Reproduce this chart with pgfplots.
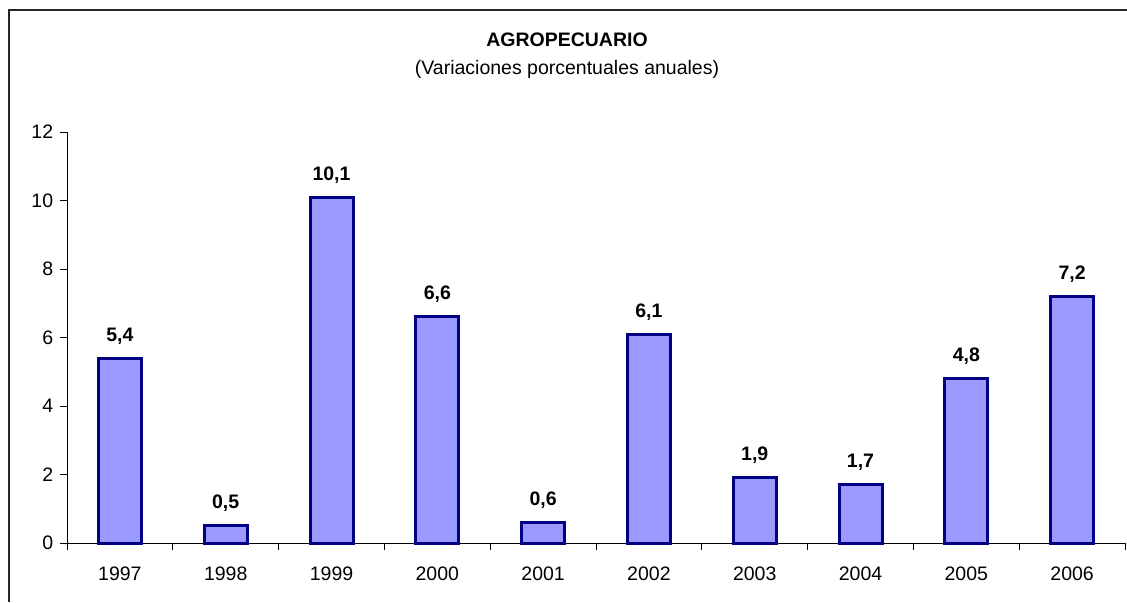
\documentclass[border=0pt]{standalone}
\usepackage{pgfplots}
\pgfplotsset{compat=1.18}
\usepackage{fontspec}
\setmainfont{Liberation Sans}
\definecolor{barfill}{RGB}{153,153,255}
\definecolor{baredge}{RGB}{0,0,128}
\begin{document}
\fontsize{9.75pt}{11.7pt}\selectfont
\begin{tikzpicture}[x=0.5pt,y=0.5pt]
\path[use as bounding box] (0,0) rectangle (1127,-602);
\draw[line width=0.8pt, black!85] (9,-602) -- (9,-10) -- (1127,-10);
\node[font=\bfseries] at (567,-40) {AGROPECUARIO};
\node at (567,-69) {(Variaciones porcentuales anuales)};
\begin{axis}[
  at={(33.5pt,-271.5pt)}, anchor=south west,
  scale only axis, width=529pt, height=205.5pt,
  clip=false,
  xmin=-0.5, xmax=9.5, ymin=0, ymax=12,
  axis x line*=bottom, axis y line*=left,
  axis line style={-, line width=0.5pt},
  tick style={black, line width=0.5pt},
  tick align=outside, major tick length=3.5pt,
  ytick={0,2,...,12},
  yticklabel style={/pgf/number format/assume math mode=true, font=\fontsize{9.75pt}{11.7pt}\selectfont},
  xtick={-0.5,0.5,...,9.5}, xticklabels={,,,,,,,,,,},
  extra x ticks={0,1,2,3,4,5,6,7,8,9},
  extra x tick labels={1997,1998,1999,2000,2001,2002,2003,2004,2005,2006},
  extra x tick style={major tick length=0pt, grid=none,
     xticklabel style={yshift=-8.5pt}},
  xticklabel style={font=\fontsize{9.75pt}{11.7pt}\selectfont},
  ybar, bar width=21.5pt,
  nodes near coords={\pgfmathprintnumber[fixed,fixed zerofill,precision=1,use comma,assume math mode=true]{\pgfplotspointmeta}},
  nodes near coords style={font=\bfseries\fontsize{9.75pt}{11.7pt}\selectfont, anchor=south, yshift=3pt},
]
\addplot[fill=barfill, draw=baredge, line width=1.5pt] coordinates {
(0,5.4) (1,0.5) (2,10.1) (3,6.6) (4,0.6) (5,6.1) (6,1.9) (7,1.7) (8,4.8) (9,7.2)};
\end{axis}
\end{tikzpicture}
\end{document}
